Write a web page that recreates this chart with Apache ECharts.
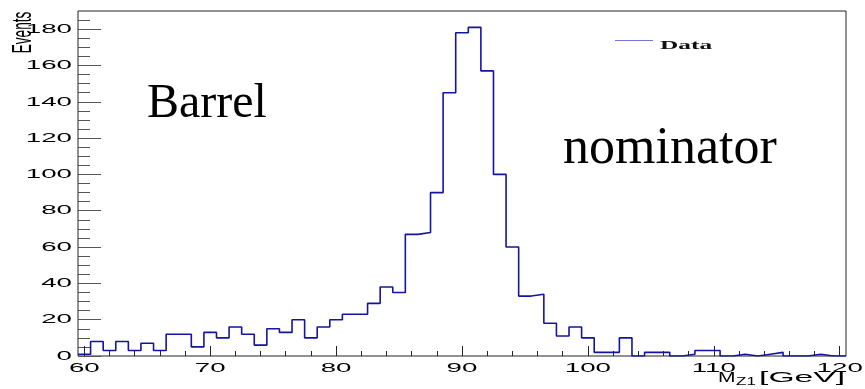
<!DOCTYPE html>
<html><head><meta charset="utf-8">
<script src="https://cdn.jsdelivr.net/npm/echarts@6/dist/echarts.min.js"></script>
<style>html,body{margin:0;padding:0;background:#fff}#c{width:865px;height:389px}</style>
</head><body><div id="c"></div>
<script>
// bin centres (GeV), 1 GeV bins
const binCenters = [60,61,62,63,64,65,66,67,68,69,70,71,72,73,74,75,76,77,78,79,80,81,82,83,84,85,86,87,88,89,90,91,92,93,94,95,96,97,98,99,100,101,102,103,104,105,106,107,108,109,110,111,112,113,114,115,116,117,118,119,120];
// events per bin
const events = [1,8,3,8,3,7,3,12,12,5,13,10,16,12,6,15,13,20,10,16,20,23,23,29,38,35,67,68,90,145,178,181,157,100,60,33,34,18,11,16,10,2,2,10,0,2,2,0,1,3,3,0,1,0,1,2,0,0,1,0,0];
const xTickLabels = [60,70,80,90,100,110,120];
const xMinorTicks = [62,64,66,68,72,74,76,78,82,84,86,88,92,94,96,98,102,104,106,108,112,114,116,118];
const yTickLabels = [0,20,40,60,80,100,120,140,160,180];
const yMinorTicks = [5,10,15,25,30,35,45,50,55,65,70,75,85,90,95,105,110,115,125,130,135,145,150,155,165,170,175,185];
const seriesName = 'Data';
const xTitle = ['M', 'Z1', '[GeV]'];
const yTitle = 'Events';
const notes = ['Barrel', 'nominator'];

const stepData = binCenters.map((c, i) => [c - 0.5, events[i]]);
stepData.push([binCenters[binCenters.length - 1] + 0.5, events[events.length - 1]]);

const chart = echarts.init(document.getElementById('c'), null, {renderer: 'canvas'});
const xBase = (ticks, len) => ({
  type: 'value', min: 59.5, max: 120.5, position: 'bottom', offset: 0,
  axisLine: {show: false},
  axisTick: {show: true, inside: true, length: len, customValues: ticks, lineStyle: {color: '#222', width: 1}},
  axisLabel: {show: false}, splitLine: {show: false}
});
const yBase = (ticks, len) => ({
  type: 'value', min: 0, max: 190, position: 'left', offset: 0,
  axisLine: {show: false},
  axisTick: {show: true, inside: true, length: len, customValues: ticks, lineStyle: {color: '#555', width: 1}},
  axisLabel: {show: false}, splitLine: {show: false}
});
chart.setOption({
  animation: false,
  backgroundColor: '#fff',
  grid: {left: 78, top: 11, right: 19, bottom: 33, show: true, borderColor: '#222', borderWidth: 1, backgroundColor: 'transparent'},
  xAxis: [xBase(xTickLabels, 10), xBase(xMinorTicks, 5)],
  yAxis: [yBase(yTickLabels, 23), yBase(yMinorTicks, 12)],
  series: [{
    name: seriesName, type: 'line', xAxisIndex: 0, yAxisIndex: 0, step: 'end',
    data: stepData, showSymbol: false, symbol: 'none', clip: true,
    lineStyle: {color: '#1414a0', width: 1.6}, itemStyle: {color: '#1414a0'}
  }]
});

const g = [];
const sans = 'Liberation Sans, Arial, sans-serif';
const serif = 'Liberation Serif, Times New Roman, serif';
const y0 = chart.convertToPixel({yAxisIndex: 0}, 0);
const xL = chart.convertToPixel({xAxisIndex: 0}, 59.5);
const xR = chart.convertToPixel({xAxisIndex: 0}, 120.5);
xTickLabels.forEach(v => {
  g.push({type: 'text', x: chart.convertToPixel({xAxisIndex: 0}, v), y: y0 + 12, scaleX: 2.05,
    style: {text: String(v), fontFamily: sans, fontSize: 13.5, fill: '#000', align: 'center', verticalAlign: 'middle'}});
});
yTickLabels.forEach(v => {
  g.push({type: 'text', x: xL - 6, y: chart.convertToPixel({yAxisIndex: 0}, v), scaleX: 2.05,
    style: {text: String(v), fontFamily: sans, fontSize: 13.5, fill: '#000', align: 'right', verticalAlign: 'middle'}});
});
// x title
g.push({type: 'text', x: 718, y: y0 + 22, scaleX: 1.5,
  style: {text: xTitle[0], fontFamily: sans, fontSize: 14, fill: '#000', align: 'left', verticalAlign: 'middle'}});
g.push({type: 'text', x: 736, y: y0 + 26, scaleX: 1.7,
  style: {text: xTitle[1], fontFamily: sans, fontSize: 10, fill: '#000', align: 'left', verticalAlign: 'middle'}});
g.push({type: 'text', x: xR - 1, y: y0 + 22, scaleX: 2.4,
  style: {text: xTitle[2], fontFamily: sans, fontSize: 14, fill: '#000', align: 'right', verticalAlign: 'middle'}});
// y title
g.push({type: 'text', x: 23, y: 32.5, rotation: Math.PI / 2, scaleY: 2.05,
  style: {text: yTitle, fontFamily: sans, fontSize: 13.5, fill: '#000', align: 'center', verticalAlign: 'middle'}});
// legend
g.push({type: 'line', shape: {x1: 615, y1: 40.5, x2: 653, y2: 40.5}, style: {stroke: '#7878dc', lineWidth: 1.2}});
g.push({type: 'text', x: 660, y: 45.5, scaleX: 1.95,
  style: {text: seriesName, fontFamily: serif, fontWeight: 'bold', fontSize: 13, fill: '#111', align: 'left', verticalAlign: 'middle'}});
// annotations
g.push({type: 'text', x: 147, y: 104, style: {text: notes[0], fontFamily: serif, fontSize: 48, fill: '#000', align: 'left', verticalAlign: 'middle'}});
g.push({type: 'text', x: 563, y: 149, style: {text: notes[1], fontFamily: serif, fontSize: 52, fill: '#000', align: 'left', verticalAlign: 'middle'}});
chart.setOption({graphic: g});
</script></body></html>
